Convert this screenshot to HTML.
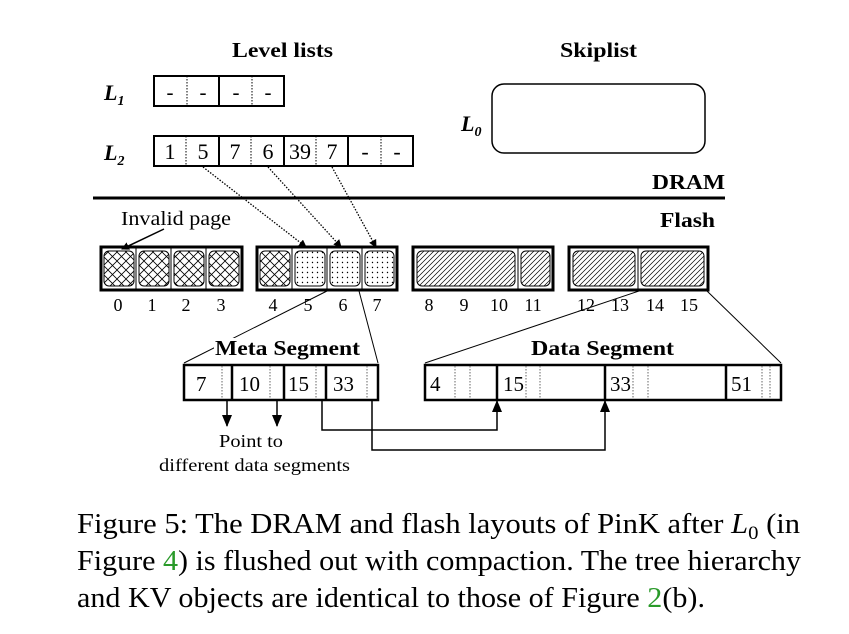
<!DOCTYPE html>
<html><head><meta charset="utf-8"><style>
body{margin:0;background:#fff}
svg{display:block}
text{font-family:"Liberation Serif",serif;fill:#000}
.b{font-weight:bold}
</style></head><body>
<svg width="849" height="634" viewBox="0 0 849 634" xmlns="http://www.w3.org/2000/svg">
<defs>
<pattern id="cross" width="9" height="9" patternUnits="userSpaceOnUse">
<path d="M0,0L9,9M9,0L0,9" stroke="#000" stroke-width="0.8"/>
</pattern>
<pattern id="dots" width="5" height="5" patternUnits="userSpaceOnUse">
<circle cx="2.5" cy="2.5" r="0.7" fill="#000"/>
</pattern>
<pattern id="hatch" width="5" height="5" patternUnits="userSpaceOnUse">
<path d="M-1,6L6,-1M-1,1L1,-1M4,6L6,4" stroke="#000" stroke-width="0.7"/>
</pattern>
<marker id="ah" markerWidth="8" markerHeight="8" refX="7" refY="4" orient="auto" markerUnits="userSpaceOnUse">
<path d="M0,0L8,4L0,8Z" fill="#000"/>
</marker>
<marker id="ah2" markerWidth="12" markerHeight="10" refX="11" refY="5" orient="auto" markerUnits="userSpaceOnUse">
<path d="M0,0L12,5L0,10Z" fill="#000"/>
</marker>
</defs>

<text x="232" y="57" class="b" font-size="21" textLength="101" lengthAdjust="spacingAndGlyphs">Level lists</text>
<text x="560" y="57" class="b" font-size="21" textLength="77" lengthAdjust="spacingAndGlyphs">Skiplist</text>

<!-- L1 -->
<text x="104" y="100" class="b" font-size="22" font-style="italic">L<tspan font-size="14" dy="5">1</tspan></text>
<rect x="154" y="76" width="130" height="30" fill="none" stroke="#000" stroke-width="2"/>
<line x1="219" y1="76" x2="219" y2="106" stroke="#000" stroke-width="2"/>
<line x1="187" y1="76" x2="187" y2="106" stroke="#000" stroke-dasharray="1.5,1.5"/>
<line x1="252" y1="76" x2="252" y2="106" stroke="#000" stroke-dasharray="1.5,1.5"/>
<g font-size="21" text-anchor="middle"><text x="170" y="99">-</text><text x="203" y="99">-</text><text x="236" y="99">-</text><text x="268" y="99">-</text></g>

<!-- L2 -->
<text x="104" y="160" class="b" font-size="22" font-style="italic">L<tspan font-size="14" dy="5">2</tspan></text>
<rect x="154" y="136" width="259" height="30" fill="none" stroke="#000" stroke-width="2"/>
<g stroke="#000" stroke-width="2"><line x1="219" y1="136" x2="219" y2="166"/><line x1="284" y1="136" x2="284" y2="166"/><line x1="348" y1="136" x2="348" y2="166"/></g>
<g stroke="#000" stroke-dasharray="1.5,1.5"><line x1="186" y1="136" x2="186" y2="166"/><line x1="251" y1="136" x2="251" y2="166"/><line x1="316" y1="136" x2="316" y2="166"/><line x1="381" y1="136" x2="381" y2="166"/></g>
<g font-size="22" text-anchor="middle"><text x="170" y="159">1</text><text x="203" y="159">5</text><text x="235" y="159">7</text><text x="268" y="159">6</text><text x="300" y="159">39</text><text x="332" y="159">7</text><text x="365" y="159">-</text><text x="397" y="159">-</text></g>

<!-- Skiplist -->
<text x="461" y="131" class="b" font-size="22" font-style="italic">L<tspan font-size="14" dy="5">0</tspan></text>
<rect x="492" y="84" width="213" height="69" rx="12" fill="none" stroke="#000" stroke-width="1.5"/>

<line x1="93" y1="198" x2="725" y2="198" stroke="#000" stroke-width="3"/>
<text x="652" y="189" class="b" font-size="21" textLength="73" lengthAdjust="spacingAndGlyphs">DRAM</text>
<text x="660" y="227" class="b" font-size="21" textLength="55" lengthAdjust="spacingAndGlyphs">Flash</text>

<!-- dotted arrows -->
<g stroke="#000" stroke-width="1.3" stroke-dasharray="1.5,1.5" marker-end="url(#ah)" fill="none">
<line x1="203" y1="167" x2="306" y2="247"/>
<line x1="268" y1="167" x2="341" y2="247"/>
<line x1="332" y1="167" x2="376" y2="247"/>
</g>
<text x="121" y="225" font-size="20" textLength="110" lengthAdjust="spacingAndGlyphs">Invalid page</text>
<line x1="164" y1="229" x2="122" y2="249" stroke="#000" stroke-width="1.5" marker-end="url(#ah)"/>

<!-- flash blocks -->
<g stroke="#000">
<rect x="101" y="247" width="141" height="43" fill="none" stroke-width="3"/>
<rect x="257" y="247" width="140" height="43" fill="none" stroke-width="3"/>
<rect x="413" y="247" width="140" height="43" fill="none" stroke-width="3"/>
<rect x="569" y="247" width="139" height="43" fill="none" stroke-width="3"/>
<g stroke-width="1">
<line x1="136" y1="247" x2="136" y2="290"/><line x1="171" y1="247" x2="171" y2="290"/><line x1="206" y1="247" x2="206" y2="290"/>
<line x1="292" y1="247" x2="292" y2="290"/><line x1="327" y1="247" x2="327" y2="290"/><line x1="362" y1="247" x2="362" y2="290"/>
<line x1="518" y1="247" x2="518" y2="290"/><line x1="638" y1="247" x2="638" y2="290"/>
</g>
<g stroke-width="1">
<rect x="104" y="251" width="30" height="35" rx="5" fill="url(#cross)"/>
<rect x="139" y="251" width="30" height="35" rx="5" fill="url(#cross)"/>
<rect x="174" y="251" width="30" height="35" rx="5" fill="url(#cross)"/>
<rect x="209" y="251" width="30" height="35" rx="5" fill="url(#cross)"/>
<rect x="260" y="251" width="30" height="35" rx="5" fill="url(#cross)"/>
<rect x="295" y="251" width="30" height="35" rx="5" fill="url(#dots)"/>
<rect x="330" y="251" width="30" height="35" rx="5" fill="url(#dots)"/>
<rect x="365" y="251" width="29" height="35" rx="5" fill="url(#dots)"/>
<rect x="417" y="251" width="98" height="35" rx="5" fill="url(#hatch)"/>
<rect x="521" y="251" width="29" height="35" rx="5" fill="url(#hatch)"/>
<rect x="573" y="251" width="62" height="35" rx="5" fill="url(#hatch)"/>
<rect x="641" y="251" width="63" height="35" rx="5" fill="url(#hatch)"/>
</g>
</g>
<g font-size="18" text-anchor="middle">
<text x="118" y="311">0</text><text x="152" y="311">1</text><text x="186" y="311">2</text><text x="221" y="311">3</text>
<text x="273" y="311">4</text><text x="308" y="311">5</text><text x="343" y="311">6</text><text x="377" y="311">7</text>
<text x="429" y="311">8</text><text x="464" y="311">9</text><text x="499" y="311">10</text><text x="533" y="311">11</text>
<text x="586" y="311">12</text><text x="620" y="311">13</text><text x="655" y="311">14</text><text x="689" y="311">15</text>
</g>

<!-- expansion lines -->
<g stroke="#000" stroke-width="1">
<line x1="184" y1="363" x2="327" y2="291"/>
<line x1="378" y1="363" x2="359" y2="291"/>
<line x1="425" y1="363" x2="639" y2="291"/>
<line x1="781" y1="363" x2="707" y2="291"/>
</g>
<rect x="214" y="338" width="148" height="22" fill="#fff"/>
<rect x="529" y="338" width="147" height="22" fill="#fff"/>
<text x="215" y="355" class="b" font-size="21" textLength="145" lengthAdjust="spacingAndGlyphs">Meta Segment</text>
<text x="531" y="355" class="b" font-size="21" textLength="143" lengthAdjust="spacingAndGlyphs">Data Segment</text>

<!-- meta box -->
<rect x="184" y="365" width="194" height="35" fill="none" stroke="#000" stroke-width="2.5"/>
<g stroke="#000" stroke-width="2.5"><line x1="232" y1="365" x2="232" y2="400"/><line x1="284" y1="365" x2="284" y2="400"/><line x1="326" y1="365" x2="326" y2="400"/></g>
<g stroke="#666" stroke-dasharray="1.5,1.5"><line x1="222" y1="366" x2="222" y2="399"/><line x1="270" y1="366" x2="270" y2="399"/><line x1="316" y1="366" x2="316" y2="399"/><line x1="367" y1="366" x2="367" y2="399"/></g>
<g font-size="21"><text x="196" y="391">7</text><text x="239" y="391">10</text><text x="288" y="391">15</text><text x="333" y="391">33</text></g>

<!-- data box -->
<rect x="425" y="365" width="356" height="35" fill="none" stroke="#000" stroke-width="2.5"/>
<g stroke="#000" stroke-width="2.5"><line x1="497" y1="365" x2="497" y2="400"/><line x1="605" y1="365" x2="605" y2="400"/><line x1="726" y1="365" x2="726" y2="400"/></g>
<g stroke="#666" stroke-dasharray="1.5,1.5"><line x1="455" y1="366" x2="455" y2="399"/><line x1="470" y1="366" x2="470" y2="399"/><line x1="526" y1="366" x2="526" y2="399"/><line x1="540" y1="366" x2="540" y2="399"/><line x1="633" y1="366" x2="633" y2="399"/><line x1="648" y1="366" x2="648" y2="399"/><line x1="762" y1="366" x2="762" y2="399"/><line x1="770" y1="366" x2="770" y2="399"/></g>
<g font-size="21"><text x="430" y="391">4</text><text x="503" y="391">15</text><text x="610" y="391">33</text><text x="731" y="391">51</text></g>

<!-- arrows -->
<g stroke="#000" stroke-width="1.5" fill="none">
<line x1="227" y1="400" x2="227" y2="426" marker-end="url(#ah2)"/>
<line x1="277" y1="400" x2="277" y2="426" marker-end="url(#ah2)"/>
<polyline points="322,400 322,430 497,430 497,401" marker-end="url(#ah2)"/>
<polyline points="372,400 372,450 605,450 605,401" marker-end="url(#ah2)"/>
</g>
<text x="219" y="447" font-size="18" textLength="64" lengthAdjust="spacingAndGlyphs">Point to</text>
<text x="159" y="471" font-size="18" textLength="191" lengthAdjust="spacingAndGlyphs">different data segments</text>

<!-- caption -->
<g font-size="28">
<text x="77" y="533" textLength="723" lengthAdjust="spacingAndGlyphs">Figure 5: The DRAM and flash layouts of PinK after <tspan font-style="italic">L</tspan><tspan font-size="19" dy="6">0</tspan><tspan dy="-6"> (in</tspan></text>
<text x="77" y="570" textLength="724" lengthAdjust="spacingAndGlyphs">Figure <tspan fill="#2a9a2a">4</tspan>) is flushed out with compaction. The tree hierarchy</text>
<text x="77" y="607" textLength="628" lengthAdjust="spacingAndGlyphs">and KV objects are identical to those of Figure <tspan fill="#2a9a2a">2</tspan>(b).</text>
</g>
</svg>
</body></html>
